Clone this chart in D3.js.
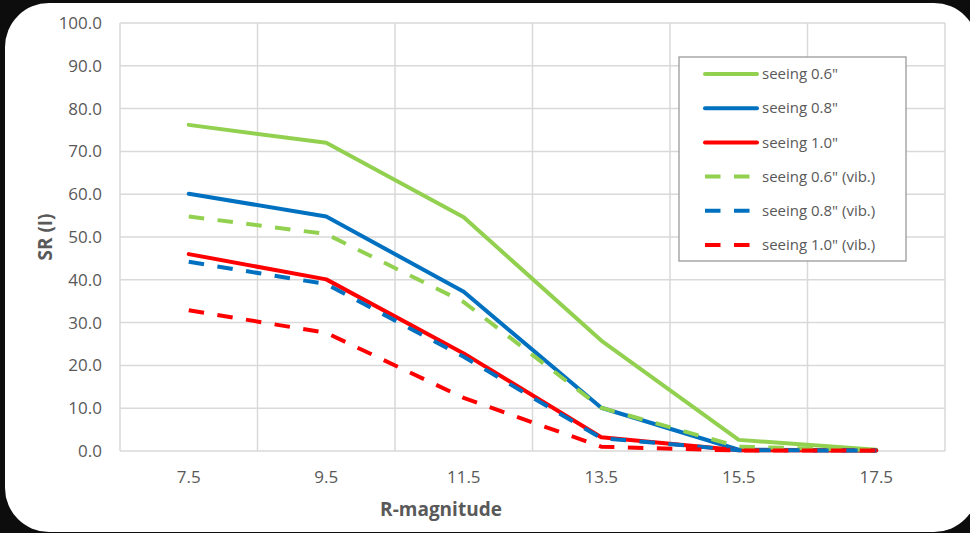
<!DOCTYPE html>
<html>
<head>
<meta charset="utf-8">
<script src="https://cdn.jsdelivr.net/npm/d3@7"></script>
<style>
  html, body { margin: 0; padding: 0; background: #0d0d0d; }
  svg { display: block; font-family: "Open Sans", "Noto Sans", sans-serif; }
</style>
</head>
<body>
<svg id="chart" width="970" height="533"></svg>
<script>
// R-magnitude categories
const magnitudes = ['7.5', '9.5', '11.5', '13.5', '15.5', '17.5'];
const yTicks = [0, 10, 20, 30, 40, 50, 60, 70, 80, 90, 100];

// SR values
const seeing06 = [76.2, 72.0, 54.6, 25.8, 2.6, 0.3];
const seeing08 = [60.1, 54.8, 37.2, 10.1, 0.3, 0.1];
const seeing10 = [46.0, 40.1, 22.8, 3.2, 0.2, 0.1];
const seeing06vib = [54.8, 50.7, 34.8, 10.1, 1.0, 0.2];
const seeing08vib = [44.2, 39.0, 22.0, 3.0, 0.2, 0.1];
const seeing10vib = [32.9, 27.6, 12.4, 1.0, 0.1, 0.1];

const series = [
  { name: 'seeing 0.6"', values: seeing06, color: '#92d050', dashed: false },
  { name: 'seeing 0.8"', values: seeing08, color: '#0070c0', dashed: false },
  { name: 'seeing 1.0"', values: seeing10, color: '#ff0000', dashed: false },
  { name: 'seeing 0.6" (vib.)', values: seeing06vib, color: '#92d050', dashed: true },
  { name: 'seeing 0.8" (vib.)', values: seeing08vib, color: '#0070c0', dashed: true },
  { name: 'seeing 1.0" (vib.)', values: seeing10vib, color: '#ff0000', dashed: true }
];

const W = 970, H = 533;
const margin = { top: 23, right: 25, bottom: 82, left: 120 };
const DASH = '15.5,13.5';
const textColor = '#595959';

const svg = d3.select('#chart');

// white card with rounded corners
svg.append('rect')
  .attr('x', 5).attr('y', 3)
  .attr('width', 973).attr('height', 529)
  .attr('rx', 44).attr('ry', 44)
  .attr('fill', '#fff');

const x = d3.scaleBand()
  .domain(magnitudes)
  .range([margin.left, W - margin.right])
  .padding(0);

const y = d3.scaleLinear()
  .domain([0, 100])
  .range([H - margin.bottom, margin.top]);

const cx = d => x(d) + x.bandwidth() / 2;

// gridlines
const grid = svg.append('g').attr('class', 'grid');
grid.selectAll('line.h')
  .data(yTicks)
  .join('line')
  .attr('class', 'h')
  .attr('x1', margin.left).attr('x2', W - margin.right)
  .attr('y1', d => y(d)).attr('y2', d => y(d))
  .attr('stroke', '#d9d9d9').attr('stroke-width', 1.5);

const bounds = magnitudes.map(d => x(d)).concat([x(magnitudes[magnitudes.length - 1]) + x.bandwidth()]);
grid.selectAll('line.v')
  .data(bounds)
  .join('line')
  .attr('class', 'v')
  .attr('x1', d => d).attr('x2', d => d)
  .attr('y1', y(100)).attr('y2', y(0))
  .attr('stroke', '#d9d9d9').attr('stroke-width', 1.5);

// axes (labels only, Excel style)
const yAxis = svg.append('g')
  .attr('transform', `translate(${margin.left - 18},0)`)
  .call(d3.axisLeft(y).tickValues(yTicks).tickFormat(d3.format('.1f')).tickSize(0).tickPadding(0));
yAxis.select('.domain').remove();
yAxis.selectAll('text')
  .attr('fill', textColor)
  .attr('font-size', '17px')
  .attr('font-family', '"Open Sans", sans-serif');

const xAxis = svg.append('g')
  .attr('transform', `translate(0,${y(0)})`)
  .call(d3.axisBottom(x).tickSize(0).tickPadding(20));
xAxis.select('.domain').remove();
xAxis.selectAll('text')
  .attr('fill', textColor)
  .attr('font-size', '17px')
  .attr('font-family', '"Open Sans", sans-serif');

// axis titles
svg.append('text')
  .attr('x', 441)
  .attr('y', 516)
  .attr('text-anchor', 'middle')
  .attr('fill', textColor)
  .attr('font-size', '19px')
  .attr('font-weight', 700)
  .text('R-magnitude');

svg.append('text')
  .attr('transform', `translate(52,${(y(0) + y(100)) / 2}) rotate(-90)`)
  .attr('text-anchor', 'middle')
  .attr('fill', textColor)
  .attr('font-size', '19px')
  .attr('font-weight', 700)
  .text('SR (I)');

// series lines
const line = d3.line()
  .x((d, i) => cx(magnitudes[i]))
  .y(d => y(d));

svg.append('g').attr('class', 'lines')
  .selectAll('path')
  .data(series)
  .join('path')
  .attr('d', d => line(d.values))
  .attr('fill', 'none')
  .attr('stroke', d => d.color)
  .attr('stroke-width', 4)
  .attr('stroke-linejoin', 'round')
  .attr('stroke-linecap', d => d.dashed ? 'butt' : 'round')
  .attr('stroke-dasharray', d => d.dashed ? DASH : null);

// legend
const lg = svg.append('g').attr('transform', 'translate(679,57)');
lg.append('rect')
  .attr('width', 227).attr('height', 204)
  .attr('fill', '#fff')
  .attr('stroke', '#9a9a9a').attr('stroke-width', 1.3);

const items = lg.selectAll('g.item')
  .data(series)
  .join('g')
  .attr('class', 'item')
  .attr('transform', (d, i) => `translate(0,${17 + i * 34.2})`);

items.append('line')
  .attr('x1', 26).attr('x2', d => d.dashed ? 72 : 78)
  .attr('y1', 0).attr('y2', 0)
  .attr('stroke', d => d.color)
  .attr('stroke-width', 4)
  .attr('stroke-linecap', d => d.dashed ? 'butt' : 'round')
  .attr('stroke-dasharray', d => d.dashed ? DASH : null);

items.append('text')
  .attr('x', 83)
  .attr('y', 0)
  .attr('dy', '0.35em')
  .attr('fill', textColor)
  .attr('font-size', '15px')
  .text(d => d.name);
</script>
</body>
</html>
